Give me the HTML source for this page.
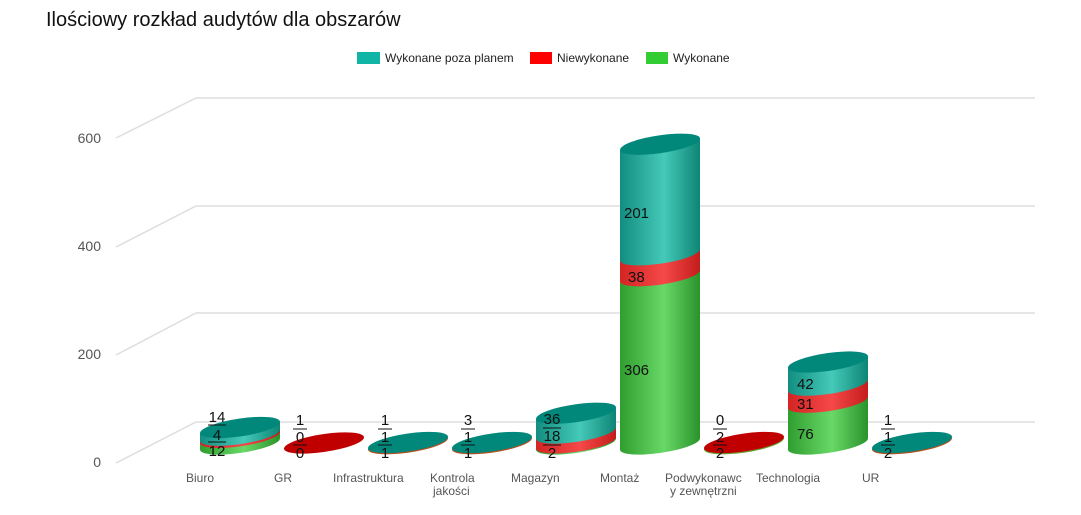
<!DOCTYPE html>
<html><head><meta charset="utf-8"><style>
html,body{margin:0;padding:0;background:#fff;}
svg{display:block;font-family:"Liberation Sans",sans-serif;}
</style></head><body>
<svg width="1081" height="515" viewBox="0 0 1081 515">
<defs>
<linearGradient id="gt" x1="0" x2="1" y1="0" y2="0"><stop offset="0" stop-color="#128e80"/><stop offset="0.55" stop-color="#45c9b8"/><stop offset="1" stop-color="#0d8576"/></linearGradient>
<linearGradient id="gr" x1="0" x2="1" y1="0" y2="0"><stop offset="0" stop-color="#d42424"/><stop offset="0.55" stop-color="#f54848"/><stop offset="1" stop-color="#c41c1c"/></linearGradient>
<linearGradient id="gg" x1="0" x2="1" y1="0" y2="0"><stop offset="0" stop-color="#2f9e2f"/><stop offset="0.55" stop-color="#68d868"/><stop offset="1" stop-color="#2a932a"/></linearGradient>
</defs>
<text x="46" y="26" font-size="20" fill="#111">Ilościowy rozkład audytów dla obszarów</text>
<rect x="357" y="52" width="23" height="12" fill="#11b5a6"/><text x="385" y="62" font-size="12" fill="#222">Wykonane poza planem</text>
<rect x="530" y="52" width="22" height="12" fill="#ff0000"/><text x="557" y="62" font-size="12" fill="#222">Niewykonane</text>
<rect x="646" y="52" width="22" height="12" fill="#33cc33"/><text x="673" y="62" font-size="12" fill="#222">Wykonane</text>
<g stroke="#dedede" stroke-width="1.5" fill="none">
<polyline points="116,138 196,98 1035,98"/>
<polyline points="116,247 196,206 1035,206"/>
<polyline points="116,355 196,313 1035,313"/>
<polyline points="116,463 196,422 1035,422"/>
</g>
<g font-size="14" fill="#555" text-anchor="end">
<text x="101" y="143">600</text><text x="101" y="251">400</text><text x="101" y="359">200</text><text x="101" y="467">0</text>
</g>
<!-- Biuro -->
<g transform="translate(240,444) skewY(-8)">
<ellipse cx="0" cy="0" rx="40" ry="9" fill="url(#gg)"/><rect x="-40" y="-6.6" width="80" height="6.6" fill="url(#gg)"/>
<ellipse cx="0" cy="-6.6" rx="40" ry="9" fill="url(#gr)"/><rect x="-40" y="-8.8" width="80" height="2.2" fill="url(#gr)"/>
<ellipse cx="0" cy="-8.8" rx="40" ry="9" fill="url(#gt)"/><rect x="-40" y="-16.5" width="80" height="7.7" fill="url(#gt)"/>
<ellipse cx="0" cy="-16.5" rx="40" ry="9" fill="#02887a"/>
</g>
<!-- GR -->
<g transform="translate(324,443) skewY(-8)"><ellipse cx="0" cy="0" rx="40" ry="9" fill="#c00000"/></g>
<!-- Infra -->
<g transform="translate(408,443) skewY(-8)"><ellipse cx="0" cy="0.7" rx="40" ry="9" fill="#b05020"/><ellipse cx="0" cy="-0.5" rx="40" ry="9" fill="#02887a"/></g>
<!-- Kontrola -->
<g transform="translate(492,443) skewY(-8)"><ellipse cx="0" cy="0.7" rx="40" ry="9" fill="#b05020"/><ellipse cx="0" cy="-0.5" rx="40" ry="9" fill="#02887a"/></g>
<!-- Magazyn -->
<g transform="translate(576,444) skewY(-8)">
<ellipse cx="0" cy="0" rx="40" ry="9" fill="url(#gg)"/><rect x="-40" y="-1.1" width="80" height="1.1" fill="url(#gg)"/>
<ellipse cx="0" cy="-1.1" rx="40" ry="9" fill="url(#gr)"/><rect x="-40" y="-11" width="80" height="9.9" fill="url(#gr)"/>
<ellipse cx="0" cy="-11" rx="40" ry="9" fill="url(#gt)"/><rect x="-40" y="-30.8" width="80" height="19.8" fill="url(#gt)"/>
<ellipse cx="0" cy="-30.8" rx="40" ry="9" fill="#02887a"/>
</g>
<!-- Montaz -->
<g transform="translate(660,444) skewY(-8)">
<ellipse cx="0" cy="0" rx="40" ry="9" fill="url(#gg)"/><rect x="-40" y="-168.3" width="80" height="168.3" fill="url(#gg)"/>
<ellipse cx="0" cy="-168.3" rx="40" ry="9" fill="url(#gr)"/><rect x="-40" y="-189.2" width="80" height="20.9" fill="url(#gr)"/>
<ellipse cx="0" cy="-189.2" rx="40" ry="9" fill="url(#gt)"/><rect x="-40" y="-299.8" width="80" height="110.6" fill="url(#gt)"/>
<ellipse cx="0" cy="-299.8" rx="40" ry="9" fill="#02887a"/>
</g>
<!-- Podwyk -->
<g transform="translate(744,443) skewY(-8)"><ellipse cx="0" cy="0.7" rx="40" ry="9" fill="#6a9a30"/><ellipse cx="0" cy="-0.5" rx="40" ry="9" fill="#c00000"/></g>
<!-- Technologia -->
<g transform="translate(828,444) skewY(-8)">
<ellipse cx="0" cy="0" rx="40" ry="9" fill="url(#gg)"/><rect x="-40" y="-41.8" width="80" height="41.8" fill="url(#gg)"/>
<ellipse cx="0" cy="-41.8" rx="40" ry="9" fill="url(#gr)"/><rect x="-40" y="-58.85" width="80" height="17.05" fill="url(#gr)"/>
<ellipse cx="0" cy="-58.85" rx="40" ry="9" fill="url(#gt)"/><rect x="-40" y="-81.95" width="80" height="23.1" fill="url(#gt)"/>
<ellipse cx="0" cy="-81.95" rx="40" ry="9" fill="#02887a"/>
</g>
<!-- UR -->
<g transform="translate(912,443) skewY(-8)"><ellipse cx="0" cy="0.7" rx="40" ry="9" fill="#b05020"/><ellipse cx="0" cy="-0.5" rx="40" ry="9" fill="#02887a"/></g>
<!-- value labels -->
<g font-size="15" fill="#111">
<text x="624" y="218">201</text><text x="628" y="282">38</text><text x="624" y="375">306</text>
<text x="797" y="389">42</text><text x="797" y="409">31</text><text x="797" y="439">76</text>
</g>
<g font-size="15" fill="#111" text-anchor="middle">
<text x="217" y="422">14</text><text x="217" y="440">4</text><text x="217" y="456">12</text>
<text x="300" y="425">1</text><text x="300" y="442">0</text><text x="300" y="458">0</text>
<text x="385" y="425">1</text><text x="385" y="442">1</text><text x="385" y="458">1</text>
<text x="468" y="425">3</text><text x="468" y="442">1</text><text x="468" y="458">1</text>
<text x="552" y="424">36</text><text x="552" y="441">18</text><text x="552" y="458">2</text>
<text x="720" y="425">0</text><text x="720" y="442">2</text><text x="720" y="458">2</text>
<text x="888" y="425">1</text><text x="888" y="442">1</text><text x="888" y="458">2</text>
</g>
<g stroke="#111" stroke-width="1">
<line x1="208" y1="425" x2="226" y2="425"/><line x1="208" y1="442" x2="226" y2="442"/>
<line x1="293" y1="429" x2="307" y2="429"/><line x1="293" y1="445" x2="307" y2="445"/>
<line x1="378" y1="429" x2="392" y2="429"/><line x1="378" y1="445" x2="392" y2="445"/>
<line x1="461" y1="429" x2="475" y2="429"/><line x1="461" y1="445" x2="475" y2="445"/>
<line x1="543" y1="428" x2="561" y2="428"/><line x1="543" y1="445" x2="561" y2="445"/>
<line x1="713" y1="429" x2="727" y2="429"/><line x1="713" y1="445" x2="727" y2="445"/>
<line x1="881" y1="429" x2="895" y2="429"/><line x1="881" y1="445" x2="895" y2="445"/>
</g>
<g font-size="12" fill="#555">
<text x="186" y="482">Biuro</text>
<text x="274" y="482">GR</text>
<text x="333" y="482">Infrastruktura</text>
<text x="430" y="482">Kontrola</text><text x="433" y="495">jakości</text>
<text x="511" y="482">Magazyn</text>
<text x="600" y="482">Montaż</text>
<text x="665" y="482">Podwykonawc</text><text x="670" y="495">y zewnętrzni</text>
<text x="756" y="482">Technologia</text>
<text x="862" y="482">UR</text>
</g>
</svg>
</body></html>
